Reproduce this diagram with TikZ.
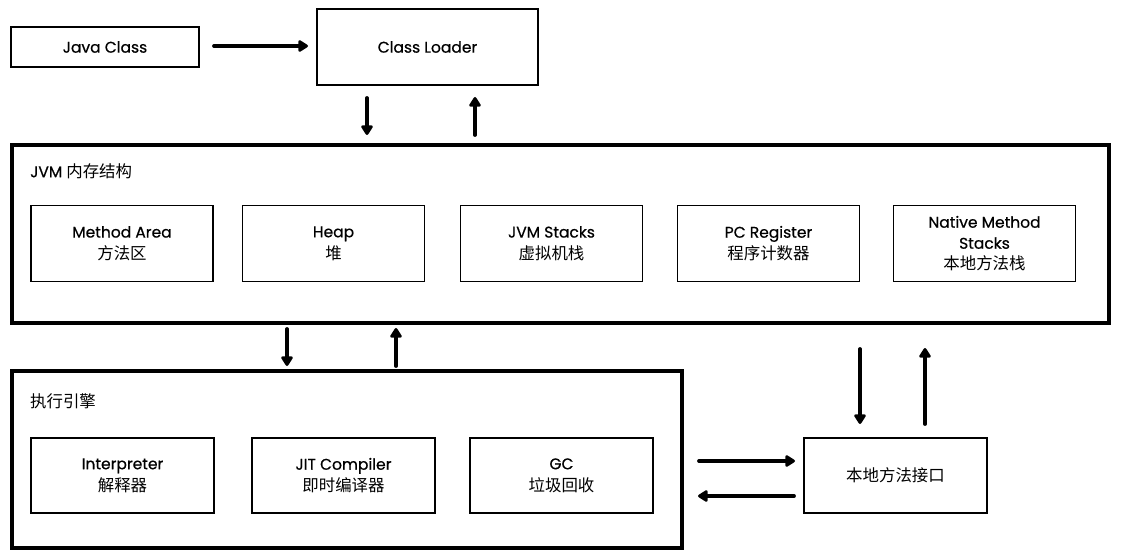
\documentclass[tikz,border=0pt]{standalone}
\usepackage{fontspec}
\setmainfont{Poppins}[FakeBold=0.6]
\newfontfamily\cjk[Scale=1.06]{Noto Sans CJK SC}
\usetikzlibrary{arrows.meta}
\begin{document}
\begin{tikzpicture}[x=1pt,y=-1pt,
  txt/.style={font=\fontsize{15.5}{22}\selectfont},
  sbox/.style={draw,line width=1.8pt,align=center,inner sep=0pt,txt},
  bigbox/.style={draw,line width=3.8pt,inner sep=0pt},
  arr/.style={line width=3.8pt,line cap=round,-{Triangle[length=11pt,width=13pt,round]}}]
\useasboundingbox (0,0) rectangle (1121,559);
% top
\node[sbox,minimum width=188pt,minimum height=40pt] (jc) at (105,47) {Java Class};
\node[sbox,minimum width=221pt,minimum height=76pt] (cl) at (427.5,47) {Class Loader};
% JVM memory
\node[bigbox,minimum width=1097pt,minimum height=178pt] (jvm) at (560.5,234) {};
\node[anchor=west,txt,inner sep=0pt] (jvmt) at (30,171) {JVM {\cjk 内存结构}};
\node[sbox,minimum width=182pt,minimum height=76pt] (ma) at (122,243.5) {Method Area\\{\cjk 方法区}};
\node[sbox,minimum width=182pt,minimum height=76pt] (hp) at (333.5,243.5) {Heap\\{\cjk 堆}};
\node[sbox,minimum width=182pt,minimum height=76pt] (js) at (551.5,243.5) {JVM Stacks\\{\cjk 虚拟机栈}};
\node[sbox,minimum width=182pt,minimum height=76pt] (pc) at (768.5,243.5) {PC Register\\{\cjk 程序计数器}};
\node[sbox,minimum width=182pt,minimum height=76pt,font=\fontsize{15.5}{21}\selectfont] (nm) at (984.5,243.5) {Native Method\\Stacks\\{\cjk 本地方法栈}};
% execution engine
\node[bigbox,minimum width=670pt,minimum height=177pt] (ee) at (347,459.5) {};
\node[anchor=west,txt,inner sep=0pt] (eet) at (30,401) {\cjk 执行引擎};
\node[sbox,minimum width=183pt,minimum height=75pt] (ip) at (122.5,475.5) {Interpreter\\{\cjk 解释器}};
\node[sbox,minimum width=183pt,minimum height=75pt] (jit) at (343.5,475.5) {JIT Compiler\\{\cjk 即时编译器}};
\node[sbox,minimum width=183pt,minimum height=75pt] (gc) at (561.5,475.5) {GC\\{\cjk 垃圾回收}};
% native interface
\node[sbox,minimum width=183pt,minimum height=75pt] (ni) at (895.5,475.5) {\cjk 本地方法接口};
% arrow coordinates
\coordinate (a1s) at (214,46); \coordinate (a1e) at (308,46);
\coordinate (a2s) at (367,98); \coordinate (a2e) at (367,135);
\coordinate (a3s) at (475,135); \coordinate (a3e) at (475,97);
\coordinate (a4s) at (287,329); \coordinate (a4e) at (287,366);
\coordinate (a5s) at (396,366); \coordinate (a5e) at (396,328);
\coordinate (a6s) at (860,349); \coordinate (a6e) at (860,424);
\coordinate (a7s) at (925,424); \coordinate (a7e) at (925,348);
\coordinate (a8s) at (699,461); \coordinate (a8e) at (795,461);
\coordinate (a9s) at (794,496); \coordinate (a9e) at (698,496);
\foreach \i in {1,...,9} {\draw[arr] (a\i s) -- (a\i e);}
\end{tikzpicture}
\end{document}
